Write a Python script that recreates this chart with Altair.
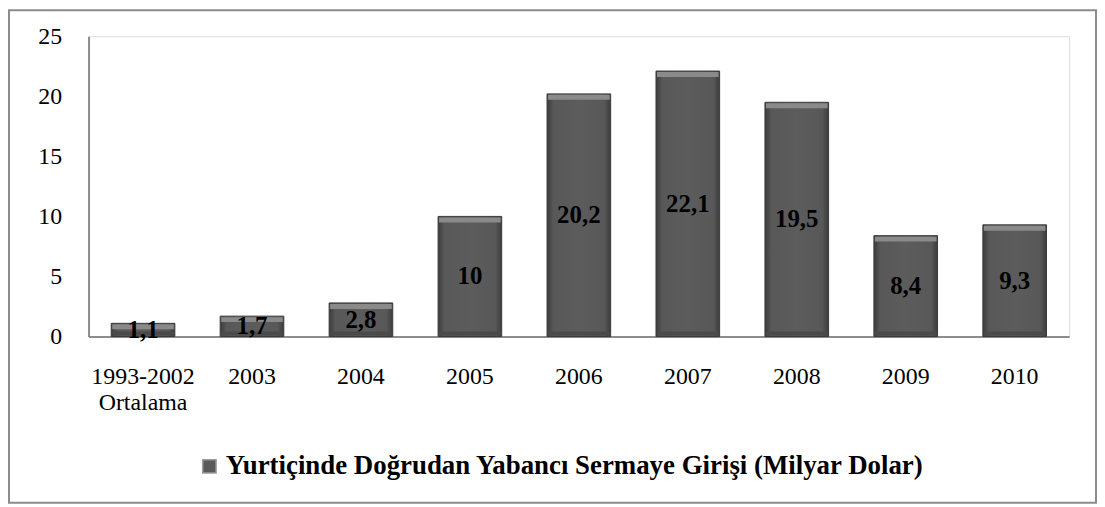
import altair as alt
import pandas as pd

categories = ["1993-2002 Ortalama", "2003", "2004", "2005", "2006", "2007", "2008", "2009", "2010"]
values = [1.1, 1.7, 2.8, 10, 20.2, 22.1, 19.5, 8.4, 9.3]
labels = ["1,1", "1,7", "2,8", "10", "20,2", "22,1", "19,5", "8,4", "9,3"]
series_name = "Yurtiçinde Doğrudan Yabancı Sermaye Girişi (Milyar Dolar)"

df = pd.DataFrame({"cat": categories, "val": values, "lab": labels, "series": series_name})
df["half"] = df["val"] / 2
df["zero"] = 0.0

W, H = 986, 302
FONT = "Liberation Serif"

grad = alt.LinearGradient(
    gradient="linear", x1=0, x2=1, y1=0, y2=0,
    stops=[
        alt.GradientStop(color="#3c3c3c", offset=0),
        alt.GradientStop(color="#585858", offset=0.1),
        alt.GradientStop(color="#5c5c5c", offset=0.5),
        alt.GradientStop(color="#585858", offset=0.9),
        alt.GradientStop(color="#3c3c3c", offset=1),
    ],
)

yscale = alt.Scale(domain=[0, 25], nice=False, zero=True)

x_enc = alt.X(
    "cat:N", sort=categories, title=None,
    scale=alt.Scale(paddingInner=0.416, paddingOuter=0.208),
    axis=alt.Axis(
        labelAngle=0, ticks=False, domainColor="#8c8c8c", domainWidth=2,
        labelFont=FONT, labelFontSize=24, labelColor="black", labelPadding=28,
        labelLineHeight=26, labelBaseline="top",
        labelExpr="datum.value == '1993-2002 Ortalama' ? ['1993-2002', 'Ortalama'] : datum.value",
    ),
)

y_axis = alt.Axis(
    values=[0, 5, 10, 15, 20, 25], grid=False, ticks=False, labelFlush=False,
    domainColor="#8c8c8c", domainWidth=2,
    labelFont=FONT, labelFontSize=24, labelColor="black", labelPadding=27,
)

bars = alt.Chart(df).mark_bar(fill=grad, stroke="#3a3a3a", strokeWidth=1).encode(
    x=x_enc,
    y=alt.Y("val:Q", title=None, scale=yscale, axis=y_axis),
)

top_bevel = alt.Chart(df).mark_tick(
    color="#8a8a8a", thickness=5, size=62, yOffset=3.5, opacity=1
).encode(
    x=alt.X("cat:N", sort=categories),
    y=alt.Y("val:Q", scale=yscale),
)

bottom_bevel = alt.Chart(df).mark_tick(
    color="#4a4a4a", thickness=4, size=62, yOffset=-3, opacity=1
).encode(
    x=alt.X("cat:N", sort=categories),
    y=alt.Y("zero:Q", scale=yscale),
)

legend_layer = alt.Chart(df).mark_point(opacity=0).encode(
    x=alt.X("cat:N", sort=categories),
    y=alt.Y("val:Q", scale=yscale),
    fill=alt.Fill(
        "series:N", title=None,
        scale=alt.Scale(range=["#5a5a5a"]),
        legend=alt.Legend(
            orient="none", legendX=108, legendY=419, symbolType="square",
            symbolSize=180, symbolStrokeColor="#9a9a9a", symbolStrokeWidth=1.5,
            symbolOpacity=1, symbolFillColor="#5a5a5a",
            labelFont=FONT, labelFontSize=27, labelFontWeight="bold", labelColor="black",
            labelLimit=1000, labelOffset=3,
        ),
    ),
)

text = alt.Chart(df).mark_text(
    font=FONT, fontSize=25, fontWeight="bold", color="black", baseline="middle"
).encode(
    x=alt.X("cat:N", sort=categories),
    y=alt.Y("half:Q", scale=yscale),
    text="lab:N",
)

border_df = pd.DataFrame({"k": [0]})
border = alt.Chart(border_df).mark_rect(
    fill="transparent", stroke="#8c8c8c", strokeWidth=2
).encode(
    x=alt.value(-80), x2=alt.value(W + 27),
    y=alt.value(-26), y2=alt.value(H + 167),
)

chart = alt.layer(border, bars, bottom_bevel, top_bevel, legend_layer, text).properties(
    width=W, height=H,
    autosize=alt.AutoSizeParams(type="none"),
    padding={"left": 81, "top": 27, "right": 28, "bottom": 168},
).configure_view(stroke=None).configure(background="white")

chart.save("out.html", embed_options={"renderer": "svg", "actions": False})
